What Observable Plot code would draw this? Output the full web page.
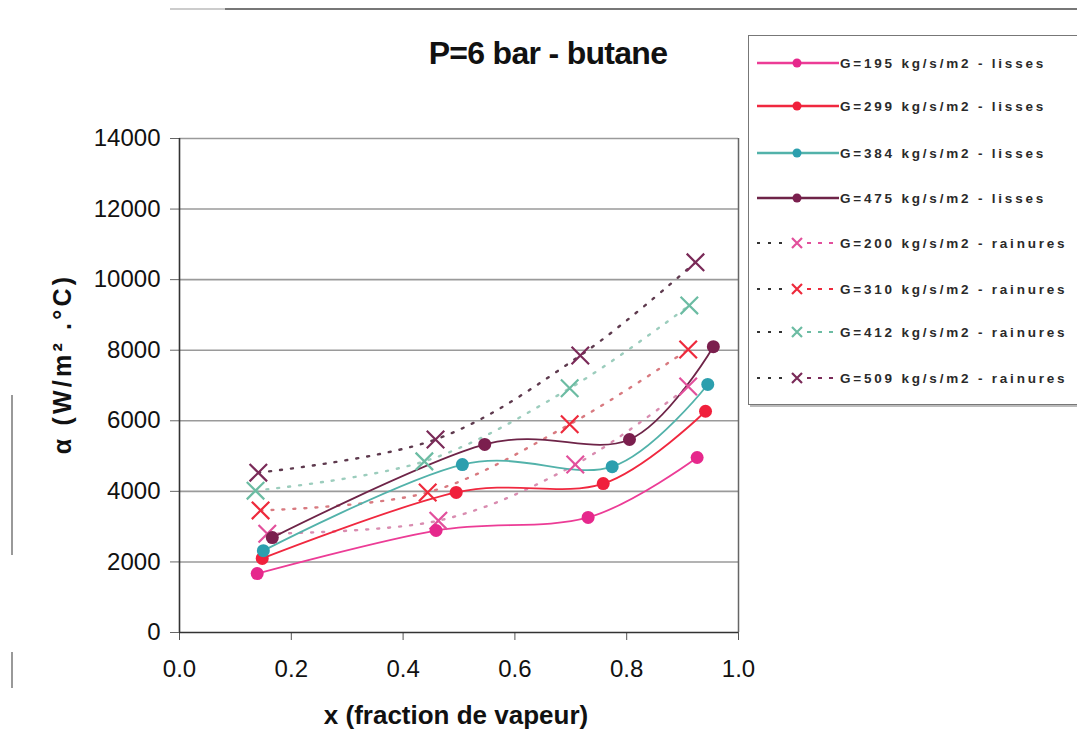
<!DOCTYPE html>
<html>
<head>
<meta charset="utf-8">
<script src="https://cdn.jsdelivr.net/npm/d3@7"></script>
<script src="https://cdn.jsdelivr.net/npm/@observablehq/plot@0.6"></script>
<style>
  html, body { margin: 0; padding: 0; background: #fff; }
  #page { position: relative; width: 1077px; height: 733px; overflow: hidden; font-family: "Liberation Sans", Arial, sans-serif; }
  #chart { position: absolute; left: 0; top: 0; }
  #title { position: absolute; left: 398px; width: 300px; top: 35px; text-align: center; font-weight: bold; font-size: 32px; color: #111; letter-spacing: -0.7px; white-space: nowrap; }
  #xlabel { position: absolute; left: 156px; width: 600px; top: 700px; text-align: center; font-weight: bold; font-size: 26px; color: #111; }
  #ylabel { position: absolute; left: 62px; top: 364px; transform: translate(-50%, -50%) rotate(-90deg); white-space: nowrap; font-weight: bold; font-size: 25px; letter-spacing: 3.2px; color: #111; }
  #legend { position: absolute; left: 748px; top: 35px; width: 345px; height: 368px; border: 1.5px solid #777; border-right: none; background: #fff; box-shadow: 2px 2px 0 #bbb; }
  .lg { position: absolute; left: 8px; height: 20px; display: flex; align-items: center; }
  .lg span { font-weight: bold; font-size: 13.5px; letter-spacing: 2.8px; color: #2a2a2a; margin-left: 1px; white-space: nowrap; }
  .art { position: absolute; background: #888; }
</style>
</head>
<body>
<div id="page">
  <div class="art" style="left:225px; top:8px; width:852px; height:2px; background:#777;"></div>
  <div class="art" style="left:170px; top:8px; width:55px; height:2px; background:#ccc;"></div>
  <div class="art" style="left:11px; top:395px; width:2px; height:160px; background:#999;"></div>
  <div class="art" style="left:11px; top:652px; width:2px; height:36px; background:#999;"></div>
  <div id="chart"></div>
  <div id="title">P=6 bar - butane</div>
  <div id="xlabel">x (fraction de vapeur)</div>
  <div id="ylabel">α (W/m² .°C)</div>
  <div id="legend"></div>
</div>
<script>
// ---- Data ----
const seriesNames = [
  "G=195 kg/s/m2 - lisses",
  "G=299 kg/s/m2 - lisses",
  "G=384 kg/s/m2 - lisses",
  "G=475 kg/s/m2 - lisses",
  "G=200 kg/s/m2 - rainures",
  "G=310 kg/s/m2 - rainures",
  "G=412 kg/s/m2 - rainures",
  "G=509 kg/s/m2 - rainures"
];
const seriesKinds = ["lisses", "lisses", "lisses", "lisses", "rainures", "rainures", "rainures", "rainures"];
const seriesColors = ["#e6288c", "#f0203c", "#2c9fae", "#7b1f4e", "#e2509c", "#ee2a3c", "#6cbca3", "#7a2a58"];
const lineColors = ["#ec3c96", "#f0283f", "#52b2aa", "#6e2448", "#d98cb0", "#d87a80", "#9ccdbd", "#5e3a4e"];

const x195 = [0.139, 0.459, 0.731, 0.926];
const y195 = [1670, 2890, 3260, 4960];
const x299 = [0.148, 0.495, 0.758, 0.941];
const y299 = [2100, 3970, 4220, 6270];
const x384 = [0.150, 0.506, 0.774, 0.945];
const y384 = [2320, 4760, 4700, 7030];
const x475 = [0.166, 0.546, 0.805, 0.955];
const y475 = [2690, 5330, 5470, 8100];
const x200 = [0.157, 0.463, 0.708, 0.910];
const y200 = [2800, 3170, 4760, 6970];
const x310 = [0.145, 0.444, 0.698, 0.910];
const y310 = [3460, 3970, 5900, 8020];
const x412 = [0.136, 0.438, 0.698, 0.912];
const y412 = [4020, 4850, 6920, 9270];
const x509 = [0.141, 0.458, 0.717, 0.923];
const y509 = [4530, 5470, 7850, 10490];

const seriesX = [x195, x299, x384, x475, x200, x310, x412, x509];
const seriesY = [y195, y299, y384, y475, y200, y310, y412, y509];

const xTicks = [0, 0.2, 0.4, 0.6, 0.8, 1.0];
const yTicks = [0, 2000, 4000, 6000, 8000, 10000, 12000, 14000];

// ---- Build rows ----
const rows = [];
seriesNames.forEach((name, i) => {
  seriesX[i].forEach((xv, j) => rows.push({series: name, kind: seriesKinds[i], x: xv, y: seriesY[i][j]}));
});
const lisses = rows.filter(d => d.kind === "lisses");
const rainures = rows.filter(d => d.kind === "rainures");
const lineColorOf = Object.fromEntries(seriesNames.map((n, i) => [n, lineColors[i]]));

const chart = Plot.plot({
  width: 1077,
  height: 733,
  marginLeft: 179,
  marginRight: 339,
  marginTop: 138,
  marginBottom: 101,
  style: {fontFamily: "'Liberation Sans', Arial, sans-serif", fontSize: "24px", color: "#111", background: "transparent"},
  x: {domain: [0, 1], ticks: xTicks, tickFormat: d3.format(".1f")},
  y: {domain: [0, 14000], ticks: yTicks, tickFormat: d => String(d)},
  color: {domain: seriesNames, range: seriesColors},
  marks: [
    Plot.ruleY(yTicks.filter(d => d > 0), {stroke: "#9a9a9a", strokeWidth: 1.6, strokeOpacity: 1}),
    Plot.ruleX([1], {stroke: "#666", strokeWidth: 1.5}),
    Plot.axisY({ticks: yTicks, tickSize: 9, tickPadding: 10, label: null, fontSize: 24, stroke: "#666", tickFormat: d => String(d)}),
    Plot.axisX({ticks: xTicks, tickSize: 8, tickPadding: 19, label: null, fontSize: 24, tickFormat: d3.format(".1f"), stroke: "#555"}),
    Plot.ruleX([0], {stroke: "#333", strokeWidth: 1.6}),
    Plot.ruleY([0], {stroke: "#333", strokeWidth: 1.6}),
    Plot.line(rainures, {x: "x", y: "y", z: "series", stroke: d => lineColorOf[d.series], strokeWidth: 2.4, strokeDasharray: "2,9", curve: "cardinal", tension: 0}),
    Plot.line(lisses, {x: "x", y: "y", z: "series", stroke: d => lineColorOf[d.series], strokeWidth: 1.8, curve: "cardinal", tension: 0}),
    Plot.dot(rainures, {x: "x", y: "y", symbol: "times", stroke: "series", r: 8, strokeWidth: 2.2}),
    Plot.dot(lisses, {x: "x", y: "y", fill: "series", r: 6.5})
  ]
});
document.getElementById("chart").appendChild(chart);

// ---- Legend ----
const legend = document.getElementById("legend");
const legendTops = [17, 60, 107, 152, 197, 243, 286, 332];
seriesNames.forEach((name, i) => {
  const div = document.createElement("div");
  div.className = "lg";
  div.style.top = legendTops[i] + "px";
  const w = 82, h = 20, cx = 40;
  let sw;
  if (seriesKinds[i] === "lisses") {
    sw = `<svg width="${w}" height="${h}"><line x1="0" y1="10" x2="${w}" y2="10" stroke="${lineColors[i]}" stroke-width="2.4"/>` +
         `<circle cx="${cx}" cy="10" r="4.5" fill="${seriesColors[i]}"/></svg>`;
  } else {
    sw = `<svg width="${w}" height="${h}"><line x1="0" y1="10" x2="28" y2="10" stroke="#333" stroke-width="2" stroke-dasharray="3,8"/>` +
         `<line x1="50" y1="10" x2="${w}" y2="10" stroke="${seriesColors[i]}" stroke-width="2" stroke-dasharray="4,7"/>` +
         `<path d="M${cx - 5},5 L${cx + 5},15 M${cx + 5},5 L${cx - 5},15" stroke="${seriesColors[i]}" stroke-width="2.2"/></svg>`;
  }
  div.innerHTML = sw + `<span>${name}</span>`;
  legend.appendChild(div);
});
</script>
</body>
</html>
